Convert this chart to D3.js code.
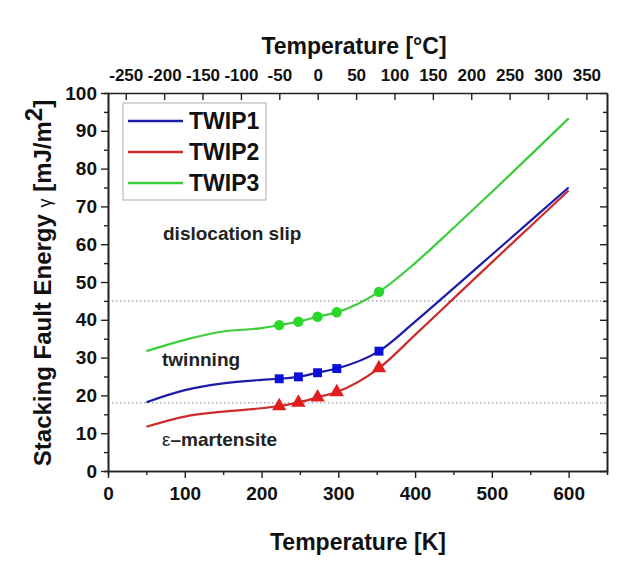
<!DOCTYPE html>
<html>
<head>
  <title>Stacking Fault Energy</title>
  <script src="https://cdn.jsdelivr.net/npm/d3@7"></script>
  <style>
    body { margin: 0; background: #fff; }
    text { font-family: "Liberation Sans", Arial, sans-serif; }
  </style>
</head>
<body>
<script>
  // size
  const w = 639;
  const h = 582;

  // data
  const curveTemps = [50, 100, 150, 200, 223, 248, 273, 298, 353, 400, 450, 500, 550, 600];
  const twip1Curve = [18.2, 21.4, 23.2, 24.1, 24.4, 24.9, 26.0, 27.1, 31.7, 39.5, 48.3, 57.2, 66.1, 75.0];
  const twip2Curve = [11.7, 14.4, 15.7, 16.6, 17.2, 18.1, 19.5, 20.9, 27.2, 36.0, 45.6, 55.2, 64.7, 74.2];
  const twip3Curve = [31.7, 34.7, 36.9, 37.8, 38.6, 39.5, 40.8, 42.0, 47.4, 55.0, 64.3, 73.8, 83.5, 93.3];

  const markerTemps = [223, 248, 273, 298, 353];
  const twip1Marks = [24.4, 24.9, 26.0, 27.1, 31.7];
  const twip2Marks = [17.2, 18.1, 19.5, 20.9, 27.2];
  const twip3Marks = [38.6, 39.5, 40.8, 42.0, 47.4];

  const seriesNames = ["TWIP1", "TWIP2", "TWIP3"];
  const limitLines = [45, 18];
  const kTicks = [0, 100, 200, 300, 400, 500, 600];
  const cTicks = [-250, -200, -150, -100, -50, 0, 50, 100, 150, 200, 250, 300, 350];
  const yTicks = [0, 10, 20, 30, 40, 50, 60, 70, 80, 90, 100];

  const lineColors = ["#1c1ca8", "#cc2b2b", "#3ccc3c"];
  const markColors = ["#0a10d8", "#e01e1e", "#2ad82a"];

  const xScale = d3.scaleLinear().domain([0, 650]).range([108, 607]);
  const cScale = d3.scaleLinear().domain([-273.15, 650 - 273.15]).range([108, 607]);
  const yScale = d3.scaleLinear().domain([0, 100]).range([471, 93]);

  const svg = d3.select("body").append("svg")
    .attr("width", w)
    .attr("height", h);

  // dotted limit lines
  svg.selectAll("line.limit")
    .data(limitLines)
    .enter()
    .append("line")
    .attr("class", "limit")
    .attr("x1", 108).attr("x2", 607)
    .attr("y1", d => yScale(d)).attr("y2", d => yScale(d))
    .attr("stroke", "#999")
    .attr("stroke-width", 1.2)
    .attr("stroke-dasharray", "1.5,2.5");

  // axes
  function styleAxis(g, size) {
    g.selectAll("path").attr("stroke", "#222").attr("stroke-width", 1.6);
    g.selectAll("line").attr("stroke", "#222").attr("stroke-width", 1.4);
    g.selectAll("text")
      .attr("font-size", size)
      .attr("font-weight", "bold")
      .attr("fill", "#111");
  }

  // bottom
  svg.append("g")
    .attr("transform", "translate(0,471)")
    .call(d3.axisBottom(xScale).tickValues(d3.range(50, 650, 100)).tickSize(4).tickFormat(""))
    .call(g => styleAxis(g, 19));
  svg.append("g")
    .attr("transform", "translate(0,471)")
    .call(d3.axisBottom(xScale).tickValues(kTicks).tickSize(7).tickSizeOuter(0).tickPadding(9))
    .call(g => styleAxis(g, 19));

  // left
  svg.append("g")
    .attr("transform", "translate(108,0)")
    .call(d3.axisLeft(yScale).tickValues(d3.range(5, 100, 10)).tickSize(4).tickFormat(""))
    .call(g => styleAxis(g, 19));
  svg.append("g")
    .attr("transform", "translate(108,0)")
    .call(d3.axisLeft(yScale).tickValues(yTicks).tickSize(7).tickSizeOuter(0).tickPadding(4))
    .call(g => styleAxis(g, 19));

  // right (ticks inward)
  svg.append("g")
    .attr("transform", "translate(607,0)")
    .call(d3.axisLeft(yScale).tickValues(d3.range(5, 100, 10)).tickSize(4).tickSizeOuter(0).tickFormat(""))
    .call(g => styleAxis(g, 19));
  svg.append("g")
    .attr("transform", "translate(607,0)")
    .call(d3.axisLeft(yScale).tickValues(yTicks).tickSize(7).tickSizeOuter(0).tickFormat(""))
    .call(g => styleAxis(g, 19));

  // top in Celsius (ticks inward)
  const topAxis = svg.append("g")
    .attr("transform", "translate(0,93)")
    .call(d3.axisBottom(cScale).tickValues(cTicks).tickSize(7).tickSizeOuter(0)
      .tickFormat(d => String(d)))
    .call(g => styleAxis(g, 17));
  topAxis.selectAll(".tick text").attr("y", -24).attr("dy", "0.71em");

  // curves
  const line = d3.line()
    .x(d => xScale(d[0]))
    .y(d => yScale(d[1]))
    .curve(d3.curveMonotoneX);

  const curves = [twip1Curve, twip2Curve, twip3Curve];
  curves.forEach(function (vals, i) {
    svg.append("path")
      .datum(curveTemps.map((t, j) => [t, vals[j]]))
      .attr("d", line)
      .attr("fill", "none")
      .attr("stroke", lineColors[i])
      .attr("stroke-width", 2.2);
  });

  // markers
  const marks = [twip1Marks, twip2Marks, twip3Marks];
  const shapes = [d3.symbolSquare, d3.symbolTriangle, d3.symbolCircle];
  const sizes = [80, 90, 85];
  marks.forEach(function (vals, i) {
    svg.selectAll("path.m" + i)
      .data(markerTemps.map((t, j) => [t, vals[j]]))
      .enter()
      .append("path")
      .attr("class", "m" + i)
      .attr("d", d3.symbol().type(shapes[i]).size(sizes[i]))
      .attr("transform", d => "translate(" + xScale(d[0]) + "," + yScale(d[1]) + ")")
      .attr("fill", markColors[i]);
  });

  // legend
  svg.append("rect")
    .attr("x", 123).attr("y", 103)
    .attr("width", 143).attr("height", 97)
    .attr("fill", "#fff")
    .attr("stroke", "#bbb")
    .attr("stroke-width", 1.2);

  seriesNames.forEach(function (name, i) {
    const yy = 121 + i * 31;
    svg.append("line")
      .attr("x1", 128).attr("x2", 183)
      .attr("y1", yy).attr("y2", yy)
      .attr("stroke", lineColors[i])
      .attr("stroke-width", 2.4);
    svg.append("text")
      .attr("x", 189).attr("y", yy + 8)
      .attr("font-size", 23)
      .attr("font-weight", "bold")
      .attr("fill", "#111")
      .text(name);
  });

  // region labels
  svg.append("text")
    .attr("x", 163).attr("y", 240)
    .attr("font-size", 19).attr("font-weight", "bold").attr("fill", "#222")
    .text("dislocation slip");
  svg.append("text")
    .attr("x", 162).attr("y", 366)
    .attr("font-size", 19).attr("font-weight", "bold").attr("fill", "#222")
    .text("twinning");
  const eps = svg.append("text")
    .attr("x", 162).attr("y", 446)
    .attr("font-size", 19).attr("font-weight", "bold").attr("fill", "#222");
  eps.append("tspan").attr("font-weight", "normal").text("ε");
  eps.append("tspan").text("–martensite");

  // axis titles
  svg.append("text")
    .attr("x", 358).attr("y", 550)
    .attr("text-anchor", "middle")
    .attr("font-size", 23).attr("font-weight", "bold").attr("fill", "#111")
    .text("Temperature [K]");
  svg.append("text")
    .attr("x", 354).attr("y", 54)
    .attr("text-anchor", "middle")
    .attr("font-size", 23).attr("font-weight", "bold").attr("fill", "#111")
    .text("Temperature [°C]");

  const yTitle = svg.append("text")
    .attr("transform", "translate(51,283) rotate(-90)")
    .attr("text-anchor", "middle")
    .attr("font-size", 24).attr("font-weight", "bold").attr("fill", "#111");
  yTitle.append("tspan").text("Stacking Fault Energy ");
  yTitle.append("tspan").attr("font-weight", "normal").attr("font-size", 18).text("γ");
  yTitle.append("tspan").text(" [mJ/m");
  yTitle.append("tspan").attr("dy", -9).text("2");
  yTitle.append("tspan").attr("dy", 9).text("]");
</script>
</body>
</html>
